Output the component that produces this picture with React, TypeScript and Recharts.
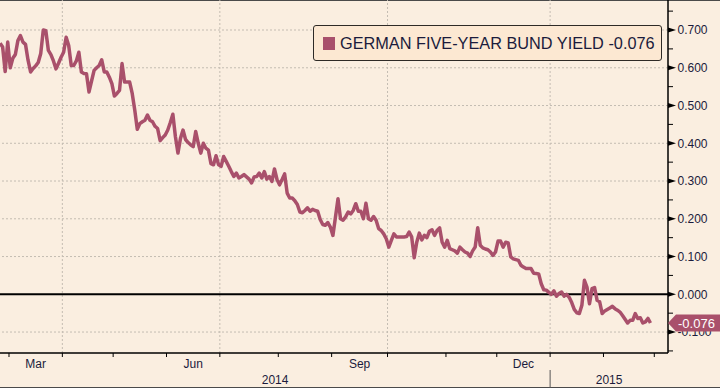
import { Legend, Line, LineChart, ReferenceLine, XAxis, YAxis } from "recharts";

// trading-day index of the first value; day 0 = Mon 3 Mar 2014
const FIRST_DAY = -4;

const yields = [
  0.665, 0.655, 0.59, 0.668,
  0.6, 0.625, 0.635, 0.672, 0.685, 0.668, 0.662, 0.62, 0.589, 0.598,
  0.605, 0.614, 0.638, 0.7, 0.698, 0.646, 0.635, 0.618, 0.597, 0.612,
  0.628, 0.641, 0.681, 0.659, 0.606, 0.606, 0.618, 0.641, 0.589, 0.585,
  0.584, 0.536, 0.565, 0.593, 0.6, 0.606, 0.621, 0.589, 0.589, 0.575,
  0.558, 0.525, 0.532, 0.54, 0.611, 0.562, 0.562, 0.562, 0.532, 0.488,
  0.437, 0.452, 0.457, 0.461, 0.475, 0.461, 0.457, 0.445, 0.439, 0.407,
  0.415, 0.422, 0.435, 0.455, 0.477, 0.418, 0.374, 0.413, 0.435, 0.41,
  0.402, 0.396, 0.391, 0.431, 0.4, 0.374, 0.4, 0.387, 0.382, 0.346,
  0.343, 0.367, 0.343, 0.339, 0.365, 0.352, 0.339, 0.325, 0.312, 0.321,
  0.308, 0.312, 0.317, 0.311, 0.305, 0.295, 0.311, 0.312, 0.321, 0.308,
  0.325, 0.305, 0.312, 0.299, 0.332, 0.304, 0.29, 0.304, 0.319, 0.268,
  0.255, 0.255, 0.248, 0.238, 0.218, 0.216, 0.222, 0.229, 0.22, 0.225,
  0.222, 0.22, 0.198, 0.185, 0.183, 0.19, 0.178, 0.156, 0.204, 0.253,
  0.2, 0.196, 0.205, 0.218, 0.213, 0.222, 0.24, 0.22, 0.22, 0.2,
  0.241, 0.2, 0.196, 0.206, 0.196, 0.174, 0.169, 0.16, 0.147, 0.125,
  0.143, 0.16, 0.152, 0.152, 0.152, 0.152, 0.153, 0.165, 0.152, 0.097,
  0.138, 0.162, 0.144, 0.156, 0.15, 0.167, 0.171, 0.156, 0.169, 0.176,
  0.138, 0.125, 0.143, 0.121, 0.118, 0.115, 0.109, 0.125, 0.118, 0.112,
  0.109, 0.1, 0.115, 0.125, 0.176, 0.13, 0.123, 0.12, 0.118, 0.112,
  0.103, 0.112, 0.141, 0.141, 0.125, 0.138, 0.136, 0.099, 0.094, 0.092,
  0.09, 0.077, 0.072, 0.068, 0.068, 0.068, 0.056, 0.055, 0.054, 0.028,
  0.012, 0.011, 0.005, 0.0, 0.009, -0.005, 0.002, 0.006, -0.005, 0.0,
  -0.008, -0.022, -0.04, -0.049, -0.051, -0.029, 0.037, 0.019, -0.025, 0.015,
  0.018, -0.016, -0.02, -0.051, -0.044, -0.04, -0.036, -0.032, -0.038, -0.042,
  -0.047, -0.056, -0.066, -0.076, -0.069, -0.069, -0.051, -0.064, -0.062, -0.076,
  -0.073, -0.064, -0.076,
];

// first trading day of each month, Mar 2014 .. Mar 2015
const monthStarts = [0, 21, 41, 62, 83, 106, 127, 149, 172, 192, 213, 234, 254];
const monthNames = ["Mar", "Apr", "May", "Jun", "Jul", "Aug", "Sep", "Oct", "Nov", "Dec", "Jan", "Feb"];
const labelledMonths = ["Mar", "Jun", "Sep", "Dec"];
const gridMonths = ["Apr", "Jul", "Oct", "Jan"];
const yearNames = ["2014", "2015"];

const X_DOMAIN: [number, number] = [-4.04, 258.9];
const Y_DOMAIN: [number, number] = [-0.1555, 0.7795];
const majorY = [-0.1, 0, 0.1, 0.2, 0.3, 0.4, 0.5, 0.6, 0.7];
const minorY = [-0.15, -0.05, 0.05, 0.15, 0.25, 0.35, 0.45, 0.55, 0.65, 0.75];

const SERIES_NAME = "GERMAN FIVE-YEAR BUND YIELD";
const LINE_COLOR = "#a9506b";
const TEXT_COLOR = "#1b1b3c";
const BG = "#faeee0";
const FONT = "'Liberation Sans', Arial, sans-serif";

const data = yields.map((v, i) => ({ day: FIRST_DAY + i, v }));
const last = yields[yields.length - 1];

// tick positions: month boundaries, month label centres, year label centres
const boundaries = monthStarts.map((d) => d - 0.5);
const janBoundary = boundaries[monthNames.indexOf("Jan")];
const tickKind = new Map<number, { kind: string; text?: string }>();
boundaries.forEach((b) => tickKind.set(b, { kind: "b" }));
monthNames.forEach((m, i) => {
  if (labelledMonths.includes(m)) {
    tickKind.set((boundaries[i] + boundaries[i + 1]) / 2, { kind: "m", text: m });
  }
});
tickKind.set((X_DOMAIN[0] + janBoundary) / 2, { kind: "y", text: yearNames[0] });
tickKind.set((janBoundary + X_DOMAIN[1]) / 2, { kind: "y", text: yearNames[1] });
const xTicks = [...tickKind.keys()];
const gridX = gridMonths.map((m) => boundaries[monthNames.indexOf(m)]);

function XTick({ x, y, payload }: any) {
  const t = tickKind.get(payload.value);
  if (!t) return null;
  if (t.kind === "b") {
    return (
      <g>
        <line x1={x} x2={x} y1={y} y2={y + 4} stroke="#000" strokeWidth={1} />
        {payload.value === janBoundary && (
          <line x1={x} x2={x} y1={y + 17} y2={y + 35} stroke="#555" strokeWidth={1} />
        )}
      </g>
    );
  }
  return (
    <text
      x={x}
      y={y + (t.kind === "m" ? 14.5 : 30.5)}
      textAnchor="middle"
      fontSize={12}
      fontFamily={FONT}
      fill={TEXT_COLOR}
    >
      {t.text}
    </text>
  );
}

function YTick({ x, y, payload }: any) {
  const v = payload.value;
  if (v === last) {
    return (
      <g>
        <path
          d={`M${x},${y} L${x + 8},${y - 8.5} L${x + 52},${y - 8.5} L${x + 52},${y + 8.5} L${x + 8},${y + 8.5} Z`}
          fill={LINE_COLOR}
        />
        <text x={x + 10} y={y} dy="0.36em" fontSize={13} fontFamily={FONT} fill="#fff">
          {v.toFixed(3)}
        </text>
      </g>
    );
  }
  if (minorY.includes(v)) {
    return <line x1={x} x2={x + 5} y1={y} y2={y} stroke="#000" strokeWidth={1} />;
  }
  return (
    <g>
      <path d={`M${x},${y - 2.5} L${x + 8},${y} L${x},${y + 2.5} Z`} fill="#000" />
      <text x={x + 9.5} y={y} dy="0.36em" fontSize={12} fontFamily={FONT} fill={TEXT_COLOR}>
        {v.toFixed(3)}
      </text>
    </g>
  );
}

function LegendBox() {
  return (
    <div
      style={{
        width: 349,
        height: 36,
        boxSizing: "border-box",
        border: "1px solid #2e2a26",
        borderRadius: 3,
        background: "#fce8d2",
        display: "flex",
        alignItems: "center",
        paddingLeft: 9,
        fontFamily: FONT,
        fontSize: 16.3,
        color: TEXT_COLOR,
        whiteSpace: "nowrap",
      }}
    >
      <span style={{ width: 12, height: 13, background: LINE_COLOR, marginRight: 5, display: "inline-block" }} />
      {SERIES_NAME} {last.toFixed(3)}
    </div>
  );
}

export default function App() {
  return (
    <div
      style={{
        width: 720,
        height: 388,
        background: BG,
        boxShadow: "inset 0 1px 0 #4a4a4a, inset 0 -1px 0 #4a4a4a",
      }}
    >
      <style>{`body{margin:0}`}</style>
      <LineChart width={720} height={388} data={data} margin={{ top: 0, right: 0, left: 0, bottom: 0 }}>
        <XAxis
          dataKey="day"
          type="number"
          domain={X_DOMAIN}
          allowDataOverflow
          ticks={xTicks}
          interval={0}
          tick={<XTick />}
          tickLine={false}
          tickSize={0}
          tickMargin={0}
          height={35}
          axisLine={{ stroke: "#000", strokeWidth: 1.5 }}
        />
        <YAxis
          orientation="right"
          type="number"
          domain={Y_DOMAIN}
          allowDataOverflow
          ticks={[...majorY, ...minorY, last]}
          interval={0}
          tick={<YTick />}
          tickLine={false}
          tickSize={0}
          tickMargin={0}
          width={52}
          axisLine={{ stroke: "#000", strokeWidth: 1.5 }}
        />
        {majorY
          .filter((v) => v !== 0)
          .map((v) => (
            <ReferenceLine key={`h${v}`} y={v} stroke="#c4bcb2" strokeDasharray="2 2" />
          ))}
        {gridX.map((d) => (
          <ReferenceLine key={`v${d}`} x={d} stroke="#c4bcb2" strokeDasharray="2 2" />
        ))}
        <ReferenceLine y={0} stroke="#000" strokeWidth={2} />
        <Legend
          layout="vertical"
          align="center"
          verticalAlign="middle"
          wrapperStyle={{ top: 25, left: 313, width: 349 }}
          content={() => <LegendBox />}
        />
        <Line
          dataKey="v"
          name={SERIES_NAME}
          stroke={LINE_COLOR}
          strokeWidth={3.5}
          strokeLinejoin="round"
          dot={false}
          activeDot={false}
          isAnimationActive={false}
        />
      </LineChart>
    </div>
  );
}
